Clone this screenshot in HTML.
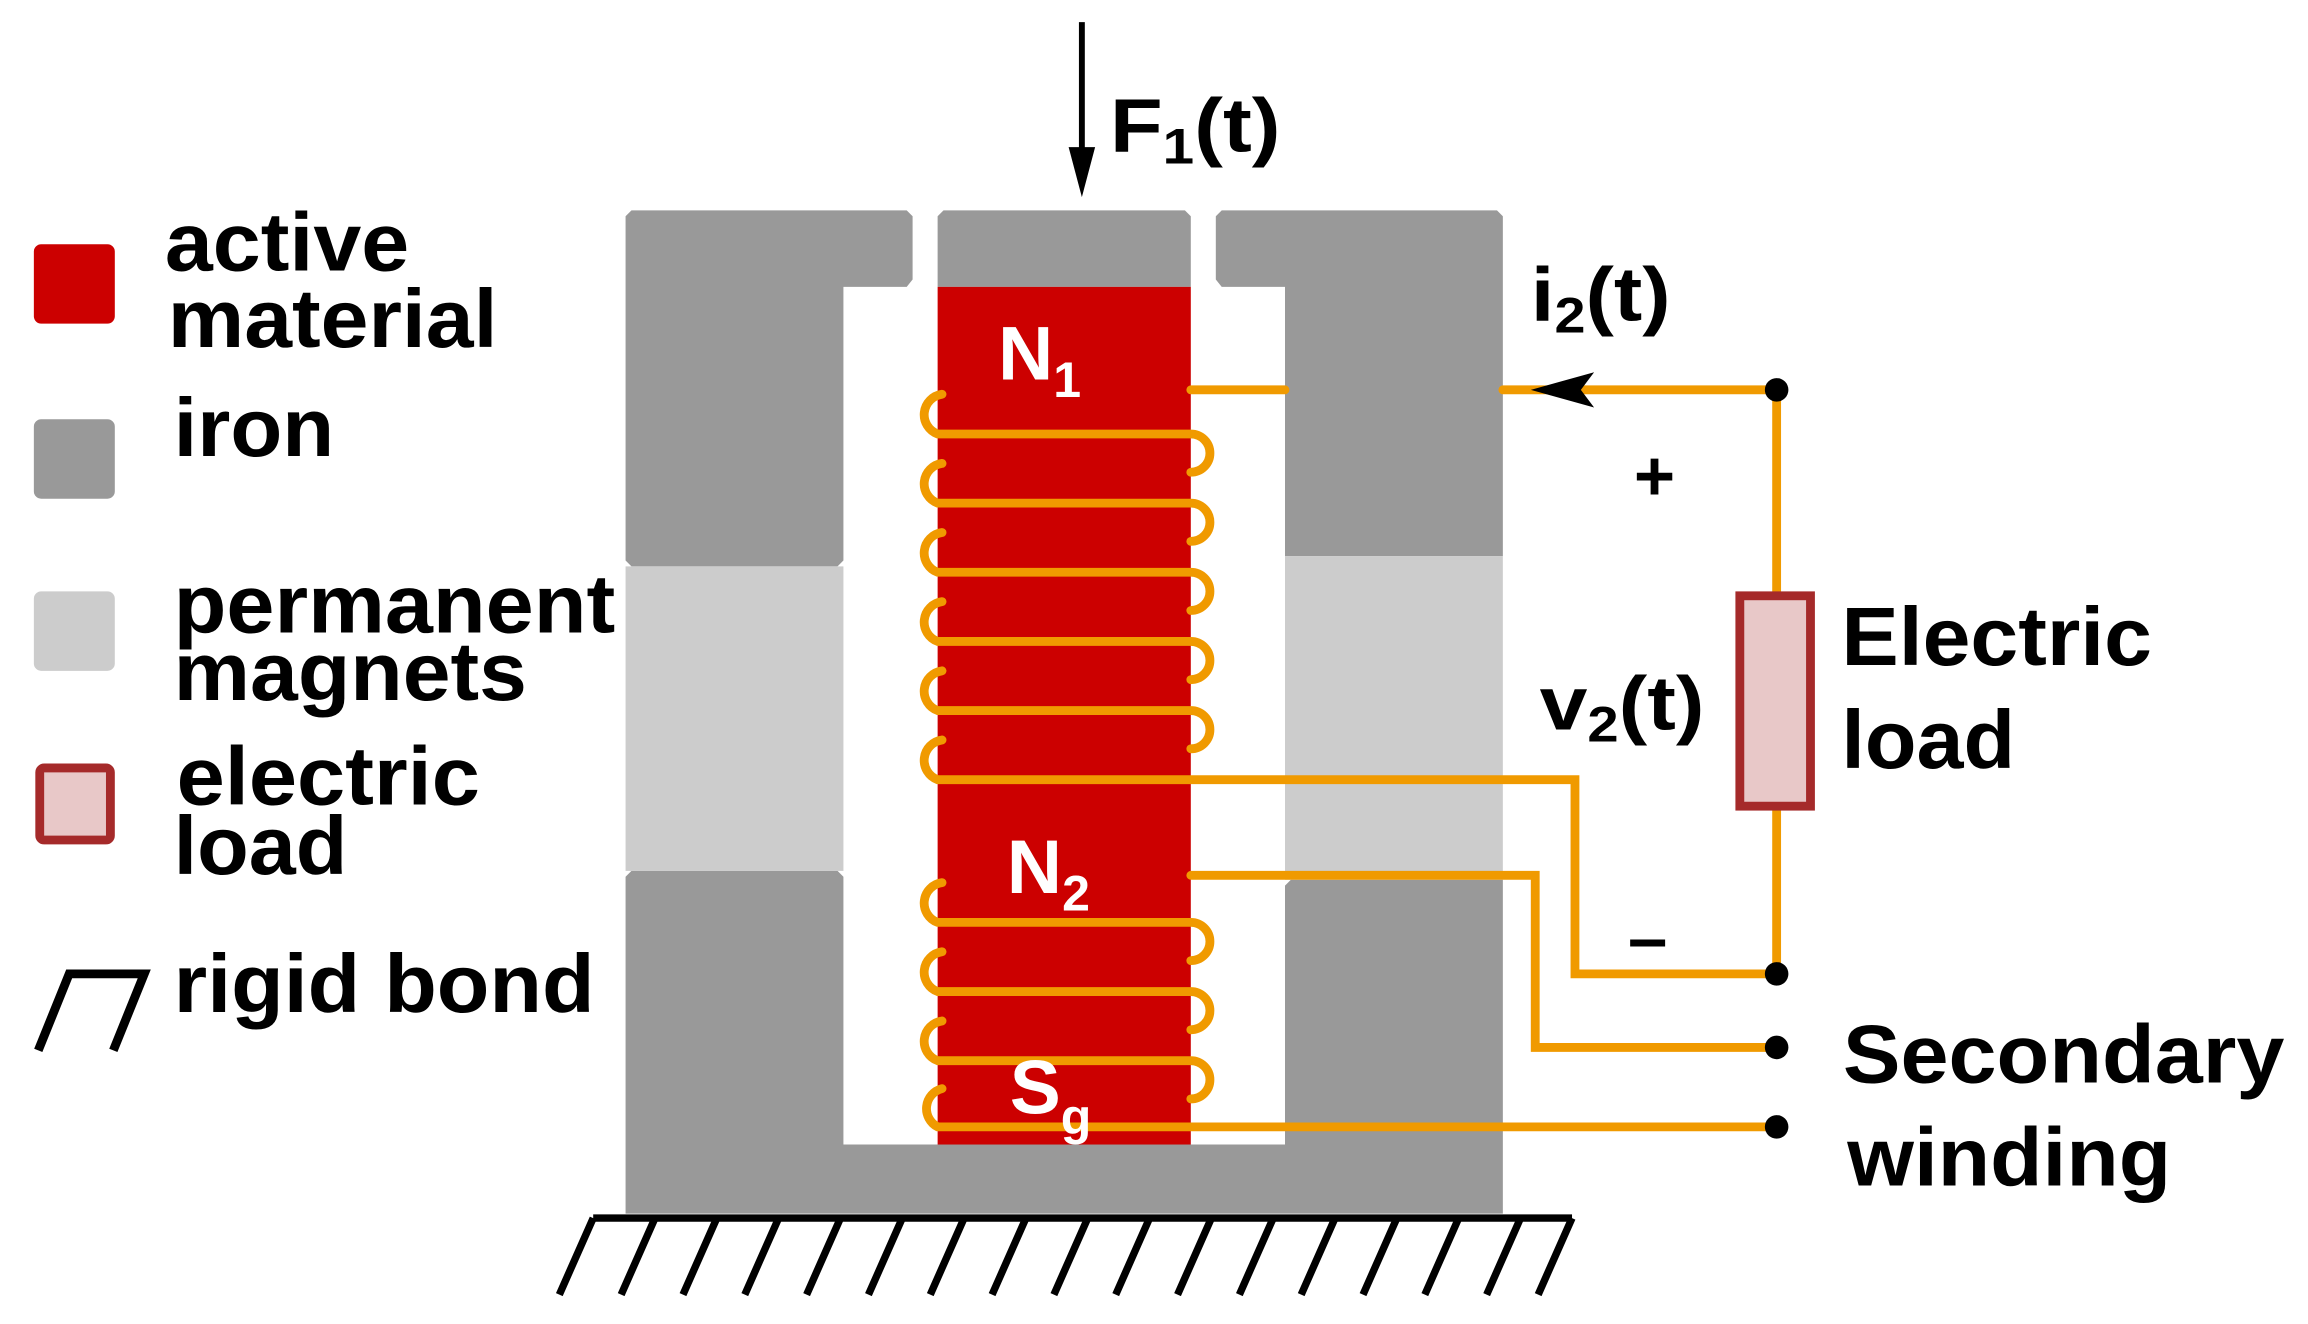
<!DOCTYPE html>
<html><head><meta charset="utf-8"><style>html,body{margin:0;padding:0;background:#fff}svg{display:block}</style></head>
<body>
<svg width="2308" height="1324" viewBox="0 0 1568 900" preserveAspectRatio="none" xmlns="http://www.w3.org/2000/svg" font-family="Liberation Sans, sans-serif" font-weight="bold">
<g fill="#999">
<path d="M429 143H616L620 147V190L616 195H573V381L569 385H429L425 381V147Z"/>
<path d="M641 143H805L809 147V195H637V147Z"/>
<path d="M830 143H1017L1021 147V378H873V195H830L826 190V147Z"/>
<path d="M429 592H569L573 596V778H873V602L877 598H1021V825H425V596Z"/>
</g>
<g fill="#ccc"><rect x="425" y="385" width="148" height="207"/><rect x="873" y="378" width="148" height="220"/></g>
<rect x="637" y="195" width="172" height="583" fill="#cc0000"/>
<g stroke="#000" stroke-width="5" fill="none">
<line x1="403" y1="828" x2="1068" y2="828"/>
<path d="M403 828L380 880M445 828L422 880M487 828L464 880M529 828L506 880M571 828L548 880M613 828L590 880M655 828L632 880M697 828L674 880M739 828L716 880M781 828L758 880M823 828L800 880M865 828L842 880M907 828L884 880M949 828L926 880M991 828L968 880M1033 828L1010 880M1068 828L1045 880"/>
</g>
<g stroke="#f09a00" stroke-width="6" fill="none" stroke-linecap="round">
<path d="M640 268a14 14 0 0 0 -3 27H809a13 13 0 0 1 0 26"/>
<path d="M640 315a14 14 0 0 0 -3 27H809a13 13 0 0 1 0 26"/>
<path d="M640 362a14 14 0 0 0 -3 27H809a13 13 0 0 1 0 26"/>
<path d="M640 409a14 14 0 0 0 -3 27H809a13 13 0 0 1 0 26"/>
<path d="M640 456a14 14 0 0 0 -3 27H809a13 13 0 0 1 0 26"/>
<path d="M640 503a14 14 0 0 0 -3 27H1070V662H1207"/>
<path d="M809 265H873M1021 265H1207V405M1207 548V662"/>
<path d="M640 600a14 14 0 0 0 -3 27H809a13 13 0 0 1 0 26"/>
<path d="M640 647a14 14 0 0 0 -3 27H809a13 13 0 0 1 0 26"/>
<path d="M640 694a14 14 0 0 0 -3 27H809a13 13 0 0 1 0 26"/>
<path d="M640 740a14 14 0 0 0 -3 26H1207"/>
<path d="M809 595H1043V712H1207"/>
</g>
<path d="M1040 265L1083 253L1074 265L1083 277Z" fill="#000"/>
<g fill="#000"><circle cx="1207" cy="265" r="8"/><circle cx="1207" cy="662" r="8"/><circle cx="1207" cy="712" r="8"/><circle cx="1207" cy="766" r="8"/></g>
<rect x="1182" y="405" width="48" height="143" fill="#e8c8c8" stroke="#a52a2a" stroke-width="6"/>
<line x1="735" y1="15" x2="735" y2="110" stroke="#000" stroke-width="4"/>
<path d="M726 100L735 134L744 100Z" fill="#000"/>
<g font-size="52">
<text x="754" y="103" textLength="116" lengthAdjust="spacingAndGlyphs">F<tspan font-size="34" dy="8">1</tspan><tspan dy="-8">(t)</tspan></text>
<text x="1040" y="218" textLength="95" lengthAdjust="spacingAndGlyphs">i<tspan font-size="34" dy="8">2</tspan><tspan dy="-8">(t)</tspan></text>
<text x="1046" y="496" textLength="112" lengthAdjust="spacingAndGlyphs">v<tspan font-size="34" dy="8">2</tspan><tspan dy="-8">(t)</tspan></text>
<text x="1110" y="340" font-size="48">+</text>
<text x="1106" y="654" font-size="48">–</text>
<text x="1251" y="452" font-size="56" textLength="211" lengthAdjust="spacingAndGlyphs">Electric</text>
<text x="1251" y="522" font-size="56" textLength="118" lengthAdjust="spacingAndGlyphs">load</text>
<text x="1252" y="736" font-size="56" textLength="300" lengthAdjust="spacingAndGlyphs">Secondary</text>
<text x="1255" y="806" font-size="56" textLength="220" lengthAdjust="spacingAndGlyphs">winding</text>
<g fill="#fff"><text x="678" y="258">N<tspan font-size="34" dy="12">1</tspan></text>
<text x="684" y="607">N<tspan font-size="34" dy="12">2</tspan></text>
<text x="686" y="757">S<tspan font-size="34" dy="14">g</tspan></text></g>
</g>
<rect x="23" y="166" width="55" height="54" rx="5" fill="#cc0000"/>
<rect x="23" y="285" width="55" height="54" rx="5" fill="#999"/>
<rect x="23" y="402" width="55" height="54" rx="5" fill="#ccc"/>
<rect x="27" y="522" width="48" height="49" rx="3" fill="#e8c8c8" stroke="#a52a2a" stroke-width="6"/>
<path d="M26 714L47 662H98L77 714" fill="none" stroke="#000" stroke-width="6"/>
<g font-size="56">
<text x="112" y="184" textLength="166" lengthAdjust="spacingAndGlyphs">active</text>
<text x="114" y="236" textLength="224" lengthAdjust="spacingAndGlyphs">material</text>
<text x="118" y="310" textLength="109" lengthAdjust="spacingAndGlyphs">iron</text>
<text x="118" y="430" textLength="300" lengthAdjust="spacingAndGlyphs">permanent</text>
<text x="118" y="476" textLength="240" lengthAdjust="spacingAndGlyphs">magnets</text>
<text x="120" y="547" textLength="206" lengthAdjust="spacingAndGlyphs">electric</text>
<text x="118" y="594" textLength="118" lengthAdjust="spacingAndGlyphs">load</text>
<text x="118" y="688" textLength="286" lengthAdjust="spacingAndGlyphs">rigid bond</text>
</g>
</svg>
</body></html>
